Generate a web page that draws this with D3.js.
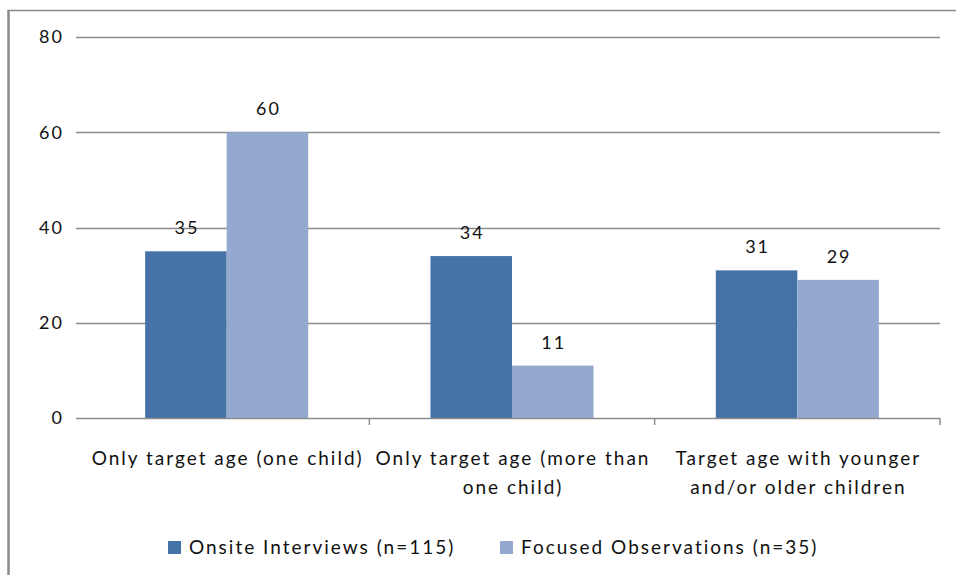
<!DOCTYPE html>
<html>
<head>
<meta charset="utf-8">
<script src="https://cdn.jsdelivr.net/npm/d3@7"></script>
<style>
  html, body { margin: 0; padding: 0; background: #fff; }
  svg { display: block; }
  text { font-family: Lato, "Open Sans", sans-serif; fill: #111; }
</style>
</head>
<body>
<svg id="chart" width="956" height="575"></svg>
<script>
// Household composition by data-collection method (percent)
const categories = [
  ["Only target age (one child)"],
  ["Only target age (more than", "one child)"],
  ["Target age with younger", "and/or older children"]
];
const seriesNames = ["Onsite Interviews (n=115)", "Focused Observations (n=35)"];
const onsiteValues = [35, 34, 31];
const focusedValues = [60, 11, 29];
const yTicks = [0, 20, 40, 60, 80];
const colors = ["#4572A7", "#93A9CF"];

const svg = d3.select("#chart");
const LS = 2; // letter spacing used for all labels

// outer frame (left and top edges)
svg.append("line").attr("x1", 8.5).attr("x2", 8.5).attr("y1", 10).attr("y2", 575)
  .attr("stroke", "#8a8a8a").attr("stroke-width", 2.5);
svg.append("line").attr("x1", 8).attr("x2", 956).attr("y1", 10.5).attr("y2", 10.5)
  .attr("stroke", "#8a8a8a").attr("stroke-width", 1.5);

const plot = { left: 84, right: 940, top: 37, bottom: 418 };

const y = d3.scaleLinear().domain([0, 80]).range([plot.bottom, plot.top]);
const x0 = d3.scaleBand().domain(d3.range(categories.length))
  .range([plot.left, plot.right]).paddingInner(0).paddingOuter(0);
const catW = x0.bandwidth();
const barW = catW / 3.5;

// horizontal gridlines
svg.append("g").selectAll("line").data(yTicks.filter(d => d > 0)).join("line")
  .attr("x1", 76).attr("x2", plot.right)
  .attr("y1", d => Math.round(y(d)) + 0.5).attr("y2", d => Math.round(y(d)) + 0.5)
  .attr("stroke", "#8c8c8c").attr("stroke-width", 1.3);

// y tick labels
svg.append("g").selectAll("text").data(yTicks).join("text")
  .attr("x", 62 + LS).attr("y", d => y(d)).attr("dy", "0.35em")
  .attr("text-anchor", "end").attr("font-size", 18)
  .attr("letter-spacing", LS)
  .text(d => d);

// bars
const series = [onsiteValues, focusedValues];
series.forEach((vals, s) => {
  const g = svg.append("g");
  g.selectAll("rect").data(vals).join("rect")
    .attr("x", (d, i) => x0(i) + barW * 0.75 + s * barW)
    .attr("y", d => y(d))
    .attr("width", barW)
    .attr("height", d => y(0) - y(d))
    .attr("fill", colors[s]);
  g.selectAll("text").data(vals).join("text")
    .attr("x", (d, i) => x0(i) + barW * 0.75 + s * barW + barW / 2 + LS / 2)
    .attr("y", d => y(d) - 17)
    .attr("text-anchor", "middle").attr("font-size", 18)
    .attr("letter-spacing", LS)
    .text(d => d);
});

// x axis baseline and category tick marks
svg.append("line").attr("x1", 76).attr("x2", plot.right)
  .attr("y1", plot.bottom + 0.5).attr("y2", plot.bottom + 0.5)
  .attr("stroke", "#8c8c8c").attr("stroke-width", 1.3);
svg.append("g").selectAll("line").data(d3.range(1, categories.length + 1)).join("line")
  .attr("x1", i => x0.step() * i + plot.left).attr("x2", i => x0.step() * i + plot.left)
  .attr("y1", plot.bottom).attr("y2", plot.bottom + 7)
  .attr("stroke", "#8c8c8c").attr("stroke-width", 1.5);

// category labels
categories.forEach((lines, i) => {
  const cx = x0(i) + catW / 2 + LS / 2;
  const t = svg.append("text")
    .attr("x", cx).attr("y", 465)
    .attr("text-anchor", "middle").attr("font-size", 19)
    .attr("letter-spacing", LS);
  lines.forEach((ln, k) => {
    t.append("tspan").attr("x", cx).attr("dy", k === 0 ? 0 : 29).text(ln);
  });
});

// legend
const legendX = [168, 500];
seriesNames.forEach((name, s) => {
  svg.append("rect").attr("x", legendX[s]).attr("y", 541)
    .attr("width", 13).attr("height", 13).attr("fill", colors[s]);
  svg.append("text").attr("x", legendX[s] + 21).attr("y", 554)
    .attr("font-size", 19).attr("letter-spacing", LS).text(name);
});
</script>
</body>
</html>
